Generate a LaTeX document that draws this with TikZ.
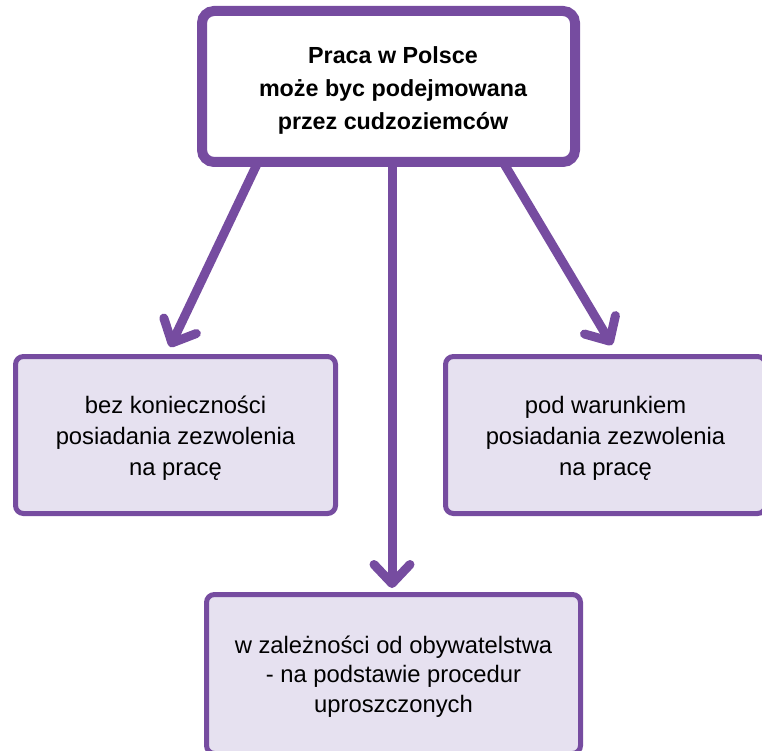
\documentclass[tikz,border=0pt]{standalone}
\usepackage{fontspec}
\setmainfont{Liberation Sans}
\usetikzlibrary{arrows.meta}
\definecolor{vio}{HTML}{764CA0}
\definecolor{lav}{HTML}{E6E1F0}
\newcommand{\boxtext}[2]{\raisebox{#1}[\height][\depth]{\begin{tabular}{@{}c@{}}#2\end{tabular}}}
\tikzset{
  topbox/.style={draw=vio, line width=10pt, fill=white, rounded corners=12pt,
    minimum width=373pt, minimum height=151pt, inner sep=0pt,
    font=\bfseries\fontsize{23.3}{33}\selectfont},
  subbox/.style={draw=vio, line width=5pt, fill=lav, rounded corners=8pt,
    minimum width=320pt, minimum height=157pt, inner sep=0pt,
    font=\fontsize{23.8}{31}\selectfont},
  conn/.style={draw=vio, line width=9pt,
    -{Straight Barb[length=19pt, width=36pt, round]}}
}
\begin{document}
\begin{tikzpicture}[x=1pt,y=-1pt]
\path[use as bounding box] (0,0) rectangle (762,751);
\clip (0,0) rectangle (762,751);
\node[subbox] (left) at (175.5,435) {\boxtext{-3pt}{bez konieczności\\posiadania zezwolenia\\na pracę}};
\node[subbox] (right) at (605.5,435) {\boxtext{-3pt}{pod warunkiem\\posiadania zezwolenia\\na pracę}};
\node[subbox, minimum width=374pt, minimum height=159pt, font=\fontsize{23.8}{29.5}\selectfont] (bottom) at (393.5,674) {\boxtext{-3pt}{w zależności od obywatelstwa\\- na podstawie procedur\\uproszczonych}};
\coordinate (s1) at (258,162);
\coordinate (s2) at (392,162);
\coordinate (s3) at (503,162);
\coordinate (t1) at (170,347);
\coordinate (t2) at (392,588);
\coordinate (t3) at (612,345);
\draw[conn] (s1) -- (t1);
\draw[conn] (s2) -- (t2);
\draw[conn] (s3) -- (t3);
\node[topbox] (top) at (388.5,86.5) {\boxtext{-3pt}{\hspace*{9pt}Praca w Polsce\\\hspace*{9pt}może byc podejmowana\\\hspace*{9pt}przez cudzoziemców}};
\end{tikzpicture}
\end{document}
